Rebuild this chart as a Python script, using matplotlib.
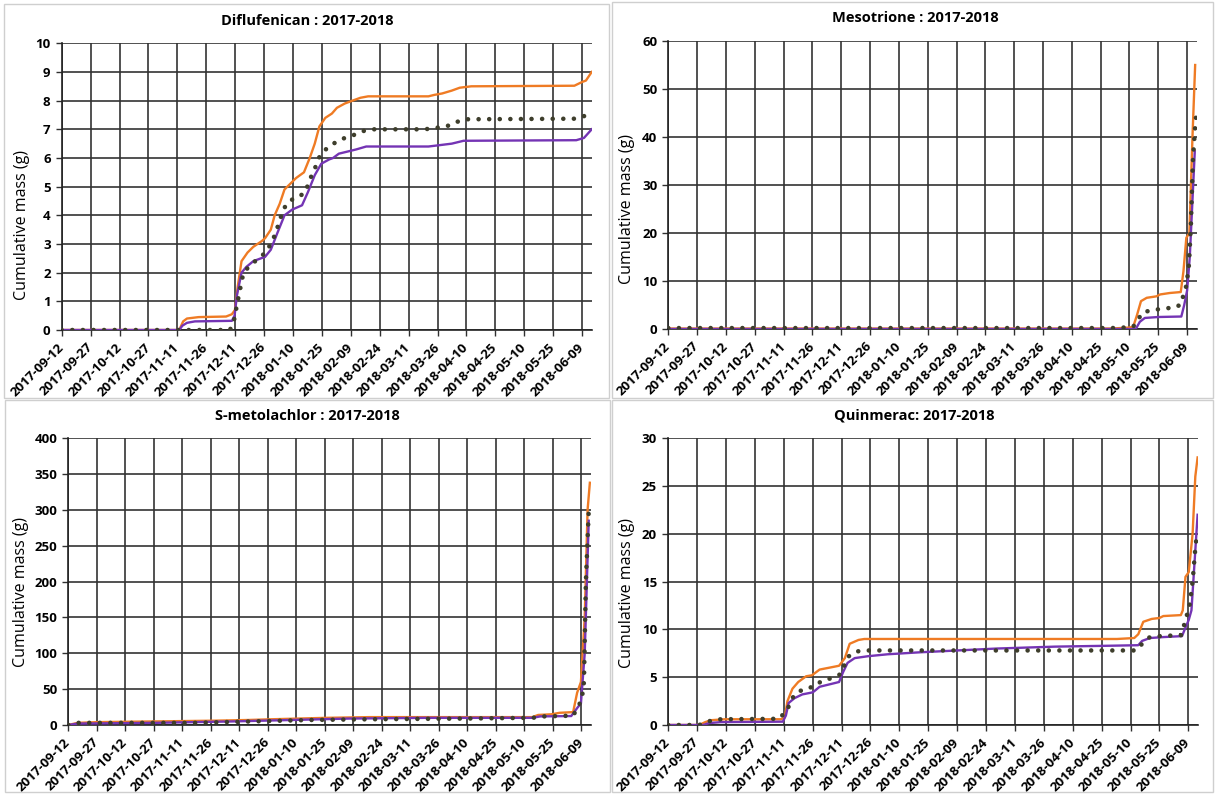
import numpy as np
import pandas as pd
import matplotlib
matplotlib.use("Agg")
import matplotlib.pyplot as plt
from matplotlib.patches import Rectangle

plt.rcParams['font.family'] = ['Open Sans', 'DejaVu Sans']

START = pd.Timestamp("2017-09-12")
END_DAY = 275
tick_labels = ["2017-09-12", "2017-09-27", "2017-10-12", "2017-10-27", "2017-11-11",
               "2017-11-26", "2017-12-11", "2017-12-26", "2018-01-10", "2018-01-25",
               "2018-02-09", "2018-02-24", "2018-03-11", "2018-03-26", "2018-04-10",
               "2018-04-25", "2018-05-10", "2018-05-25", "2018-06-09"]

# ---- Diflufenican (days since 2017-09-12, cumulative mass g) ----
dif_or_d = [0, 61.0, 63.0, 65.0, 71.1, 85.3, 88.3, 89.9, 91.3, 93.3, 96.4, 99.4, 103.8, 105.5,
            108.5, 110.5, 113.1, 115.6, 118.6, 121.6, 125.7, 128.7, 131.3, 133.7, 136.8, 140.2,
            142.8, 146.9, 150.9, 155, 159, 190.3, 193.3, 197.4, 202.4, 206.5, 212.5, 266, 270,
            272, 275]
dif_or_v = [0, 0, 0.3, 0.4, 0.45, 0.47, 0.55, 0.7, 1.5, 2.4, 2.7, 2.9, 3.1, 3.2,
            3.5, 4.0, 4.4, 4.9, 5.1, 5.3, 5.5, 6.0, 6.5, 7.1, 7.4, 7.55,
            7.75, 7.9, 8.0, 8.1, 8.15, 8.15, 8.2, 8.25, 8.35, 8.45, 8.5, 8.52, 8.65,
            8.7, 9.0]
dif_pu_d = [0, 61.0, 62.6, 65.0, 69.1, 88.3, 89.7, 90.9, 93.3, 95.8, 99.4, 103.4, 105.5, 108.5,
            112.0, 115.6, 119.6, 124.7, 127.7, 131.3, 134.7, 138.8, 140.8, 143.8, 149.9, 152.9,
            158.0, 190.3, 196.4, 202.4, 208.5, 267, 271, 275]
dif_pu_v = [0, 0, 0.15, 0.25, 0.3, 0.32, 0.5, 1.2, 2.0, 2.2, 2.4, 2.5, 2.55, 2.8,
            3.4, 4.0, 4.2, 4.35, 4.8, 5.4, 5.8, 5.95, 6.0, 6.15, 6.25, 6.3,
            6.4, 6.4, 6.45, 6.5, 6.6, 6.62, 6.7, 7.0]
dif_ob_d = [0, 87.3, 89.3, 91.3, 94.3, 98.4, 102.4, 106.5, 110.9, 112.5, 114.5, 116.6, 120.6,
            125.7, 128.1, 129.7, 132.1, 134.1, 137.8, 142.2, 146.9, 151.5, 157.0, 162.0,
            188.3, 194.1, 199.6, 204.6, 209.7, 267, 272.8]
dif_ob_v = [0, 0, 0.3, 1.0, 2.0, 2.3, 2.5, 2.75, 3.35, 3.7, 4.1, 4.4, 4.6,
            4.75, 5.1, 5.4, 5.75, 6.1, 6.35, 6.55, 6.7, 6.8, 6.95, 7.0,
            7.0, 7.05, 7.1, 7.25, 7.35, 7.37, 7.5]

# ---- Mesotrione ----
mes_or_d = [0, 230.8, 240, 242, 244, 246, 249, 254, 256, 261, 266.7, 268.1, 269.6, 271.2, 272.8, 274.2]
mes_or_v = [0.1, 0.1, 0.3, 0.5, 3.0, 5.8, 6.5, 6.8, 7.2, 7.5, 7.7, 12, 19, 20, 40, 55]
mes_pu_d = [0, 243.3, 245.4, 248, 255, 267, 268.5, 270, 271.4, 274]
mes_pu_v = [0, 0, 1.5, 2.3, 2.5, 2.6, 5, 8, 15, 37]
mes_ob_d = [0, 230.8, 236.9, 242, 247, 253, 259, 264, 267, 268.3, 269.6, 271, 272, 273, 274, 274.6]
mes_ob_v = [0.2, 0.2, 0.3, 0.5, 3.5, 4.0, 4.3, 4.5, 5.2, 7.5, 9, 13.5, 22, 35, 41, 44]

# ---- S-metolachlor ----
sme_or_d = [0, 4.9, 15.1, 45.8, 76.5, 94.9, 107, 121.5, 135.8, 158.3, 244.2, 247.2, 254.4,
            258.4, 265.6, 267.7, 269.7, 271.7, 273.2, 274.4]
sme_or_v = [0, 3, 4, 5, 6, 7, 8, 9, 10, 11, 11, 14, 15, 17, 18, 45, 60, 150, 300, 338]
sme_pu_d = [0, 4.9, 45.8, 86.7, 117.4, 148.1, 189.0, 244.2, 248.3, 264.6, 268.1, 269.7, 271.7, 273.8]
sme_pu_v = [0, 2, 3, 5, 7, 9, 10, 10, 12, 12.5, 25, 30, 100, 285]
sme_ob_d = [0, 4.9, 66.3, 96.9, 127.6, 158.3, 209.4, 244.2, 250.3, 265.6, 270.1, 271.3, 272.3, 273.8]
sme_ob_v = [0, 3, 3, 5, 7, 8, 9, 10, 12, 13, 35, 60, 200, 298]

# ---- Quinmerac ----
qui_or_d = [0, 16.1, 19.2, 22.2, 29.2, 58.5, 60.5, 61.9, 64.5, 67.5, 71.6, 74.6, 78.6, 83.7,
            88.7, 91.7, 94.2, 98.8, 101.8, 232.9, 241.9, 244, 246.6, 251, 255, 257, 266.1,
            267.1, 268.5, 270.2, 272.2, 273.6, 274.8]
qui_or_v = [0, 0, 0.3, 0.5, 0.6, 0.6, 0.8, 2.5, 3.8, 4.5, 5.1, 5.2, 5.8, 6.0,
            6.2, 7.0, 8.5, 8.9, 9.0, 9.0, 9.1, 9.5, 10.8, 11.1, 11.2, 11.4, 11.5,
            12, 15.5, 16, 20, 26, 28]
qui_pu_d = [0, 18.1, 21.2, 27.2, 59.5, 61.1, 62.5, 65.5, 69.6, 74.6, 75.6, 78.6, 84.7, 88.7,
            90.7, 93.1, 96.8, 103.8, 113.9, 130, 150.2, 170.4, 200.6, 230.8, 244, 246, 250,
            257, 266.7, 268.1, 270.2, 271.6, 274.8]
qui_pu_v = [0, 0, 0.2, 0.3, 0.35, 1.0, 2.3, 2.8, 3.2, 3.4, 3.5, 4.0, 4.3, 4.5,
            5.5, 6.5, 7.0, 7.2, 7.4, 7.6, 7.8, 8.0, 8.2, 8.3, 8.35, 8.8, 9.1,
            9.2, 9.3, 10.0, 11, 12, 22]
qui_ob_d = [0, 16.1, 21.2, 27.2, 57.5, 61.5, 65.5, 70.6, 75.6, 79.6, 84.7, 89.3, 91.3, 93.8,
            97.8, 103.8, 242.9, 246, 250, 255, 266.1, 267.7, 269.1, 270.6, 272.2, 273.8, 274.8]
qui_ob_v = [0, 0, 0.4, 0.6, 0.65, 1.5, 3.2, 3.8, 4.0, 4.6, 4.9, 5.3, 6.2, 7.2,
            7.7, 7.8, 7.8, 8.5, 9.2, 9.3, 9.4, 10.4, 11.4, 12.5, 15, 19, 20]

panels = [
    dict(title="Diflufenican : 2017-2018", ymax=10, ystep=1,
         orange=(dif_or_d, dif_or_v), purple=(dif_pu_d, dif_pu_v), obs=(dif_ob_d, dif_ob_v),
         rect=(61.7, 591.7, 43.3, 330), title_xy=(307, 20.7), ylab_xy=(22, 225)),
    dict(title="Mesotrione : 2017-2018", ymax=60, ystep=10,
         orange=(mes_or_d, mes_or_v), purple=(mes_pu_d, mes_pu_v), obs=(mes_ob_d, mes_ob_v),
         rect=(668.3, 1196.7, 41, 329), title_xy=(915, 18.5), ylab_xy=(627, 209)),
    dict(title="S-metolachlor : 2017-2018", ymax=400, ystep=50,
         orange=(sme_or_d, sme_or_v), purple=(sme_pu_d, sme_pu_v), obs=(sme_ob_d, sme_ob_v),
         rect=(68.3, 591, 438.3, 725), title_xy=(307, 415.7), ylab_xy=(21, 592)),
    dict(title="Quinmerac: 2017-2018", ymax=30, ystep=5,
         orange=(qui_or_d, qui_or_v), purple=(qui_pu_d, qui_pu_v), obs=(qui_ob_d, qui_ob_v),
         rect=(668.2, 1198, 438.3, 725), title_xy=(914, 415.7), ylab_xy=(627, 593)),
]

W, H = 1215, 795
fig = plt.figure(figsize=(W / 100, H / 100), dpi=100)

# panel borders
for (x0, y0, x1, y1) in [(4, 4, 609, 398), (612, 2, 1213, 398), (5, 400, 610, 792), (612, 400, 1213, 792)]:
    fig.patches.append(Rectangle((x0 / W, 1 - y1 / H), (x1 - x0) / W, (y1 - y0) / H,
                                 transform=fig.transFigure, fill=False,
                                 edgecolor="#cfcfcf", linewidth=1.0))

ORANGE = "#EF7B24"
PURPLE = "#7434B4"
OBS = "#3E3E2C"

tick_dates = pd.to_datetime(tick_labels)

for p in panels:
    l, r, t, b = p["rect"]
    ax = fig.add_axes([l / W, 1 - b / H, (r - l) / W, (b - t) / H])
    for key, col, z in [("orange", ORANGE, 3), ("purple", PURPLE, 4)]:
        d, v = p[key]
        dates = START + pd.to_timedelta(d, unit="D")
        ax.plot(dates, v, color=col, lw=1.7, zorder=z, solid_joinstyle="round")
    d, v = p["obs"]
    dates = START + pd.to_timedelta(d, unit="D")
    ax.plot(dates, v, color=OBS, lw=3.3, linestyle=(0, (0.01, 2.3)),
            dash_capstyle="round", zorder=5)

    ax.set_xlim(START, START + pd.Timedelta(days=END_DAY))
    ax.set_ylim(0, p["ymax"])
    ax.set_yticks(np.arange(0, p["ymax"] + 0.001, p["ystep"]))
    ax.set_xticks(tick_dates)
    ax.set_xticklabels(tick_labels, rotation=45, ha="right", va="center",
                       rotation_mode="anchor", fontsize=9.5, fontweight="bold")
    for lab in ax.get_yticklabels():
        lab.set_fontweight("bold")
        lab.set_fontsize(9.5)
    ax.tick_params(axis="x", length=4, width=1, color="#303030", pad=7)
    ax.tick_params(axis="y", length=4, width=1, color="#303030", pad=4)
    ax.grid(True, color="#333333", linewidth=1.2)
    ax.set_axisbelow(True)
    for s in ["top", "right"]:
        ax.spines[s].set_visible(False)
    for s in ["left", "bottom"]:
        ax.spines[s].set_color("#222222")
        ax.spines[s].set_linewidth(1.2)
    ax.patch.set_alpha(0)

    tx, ty = p["title_xy"]
    fig.text(tx / W, 1 - ty / H, p["title"], ha="center", va="center",
             fontsize=10.5, fontweight="bold")
    lx, ly = p["ylab_xy"]
    fig.text(lx / W, 1 - ly / H, "Cumulative mass (g)", rotation=90,
             ha="center", va="center", fontsize=11.5)

fig.savefig("out.png", dpi=100)
